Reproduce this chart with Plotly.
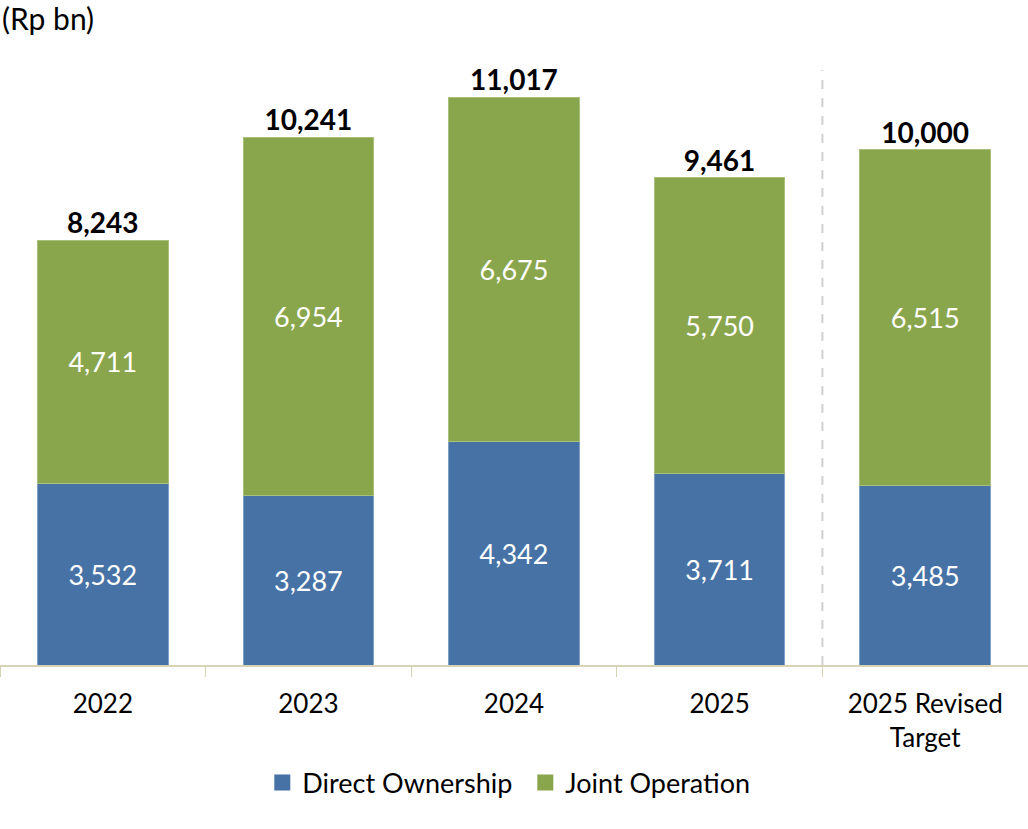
import plotly.graph_objects as go

categories = ["2022", "2023", "2024", "2025", "2025 Revised<br>Target"]
direct = [3532, 3287, 4342, 3711, 3485]
joint = [4711, 6954, 6675, 5750, 6515]
totals = [8243, 10241, 11017, 9461, 10000]

blue = "#4672A6"
green = "#8AA64D"
font_family = "Lato, 'Open Sans', sans-serif"

fig = go.Figure()
fig.add_trace(go.Bar(
    x=categories, y=direct, name="Direct Ownership", showlegend=False,
    marker=dict(color=blue, line=dict(color="#7f9fc7", width=1)),
    text=[f"{v:,}" for v in direct], textposition="inside",
    insidetextanchor="middle",
    textfont=dict(color="white", size=27, family=font_family),
))
fig.add_trace(go.Bar(
    x=categories, y=joint, name="Joint Operation", showlegend=False,
    marker=dict(color=green, line=dict(color="#a9c07a", width=1)),
    text=[f"{v:,}" for v in joint], textposition="inside",
    insidetextanchor="middle",
    textfont=dict(color="white", size=27, family=font_family),
))
fig.add_trace(go.Scatter(
    x=categories, y=totals, mode="text",
    text=[f"<b>{v:,}</b>" for v in totals], textposition="top center",
    textfont=dict(color="black", size=28, family=font_family),
    showlegend=False, hoverinfo="skip", cliponaxis=False,
))
# legend entries with square markers
for nm, col in [("Direct Ownership", blue), ("Joint Operation", green)]:
    fig.add_trace(go.Scatter(
        x=[None], y=[None], mode="markers", name=nm,
        marker=dict(symbol="square", size=17, color=col),
        showlegend=True,
    ))

fig.add_shape(type="line", xref="x", yref="y", x0=3.5, x1=3.5, y0=0, y1=11550,
              line=dict(color="#d0d0d0", width=2, dash="dash"), layer="below")

fig.add_annotation(text="(Rp bn)", xref="paper", yref="paper", x=0, y=1.0,
                   xanchor="left", yanchor="middle", showarrow=False, yshift=3,
                   font=dict(size=30, color="black", family=font_family))

fig.update_layout(
    barmode="stack",
    bargap=0.364,
    width=1028, height=829,
    margin=dict(l=0, r=0, t=21, b=164),
    plot_bgcolor="white", paper_bgcolor="white",
    font=dict(family=font_family, color="black"),
    legend=dict(orientation="h", x=0.511, xanchor="center", y=-0.183, yanchor="middle",
                font=dict(size=27, color="black"), itemwidth=30, traceorder="normal",
                entrywidth=218, entrywidthmode="pixels"),
    xaxis=dict(
        type="category", range=[-0.5, 4.5],
        showline=True, linecolor="#d9d3b5", linewidth=1.5,
        ticks="outside", tickson="boundaries", ticklen=10, tickcolor="#d9d3b5",
        tickfont=dict(size=26, color="black"), showgrid=False,
        ticklabelstandoff=15,
    ),
    yaxis=dict(range=[0, 12500], visible=False, showgrid=False),
)

fig.write_html("out.html", config={"displayModeBar": False},
               post_script="document.body.style.margin='0';document.body.style.overflow='hidden';")
